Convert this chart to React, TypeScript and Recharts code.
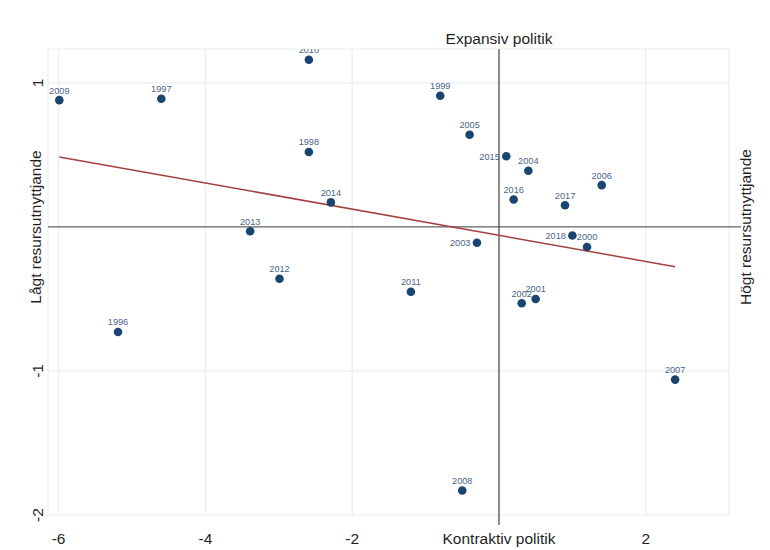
import {
    ScatterChart,
    Scatter,
    XAxis,
    YAxis,
    CartesianGrid,
    ReferenceLine,
    Customized,
} from "recharts";

// Finanspolitik (x) mot resursutnyttjande (y), ett år per punkt
const years = [
    "1996", "1997", "1998", "1999", "2000", "2001", "2002", "2003",
    "2004", "2005", "2006", "2007", "2008", "2009", "2010", "2011",
    "2012", "2013", "2014", "2015", "2016", "2017", "2018",
];
const policy = [
    -5.19, -4.6, -2.59, -0.8, 1.2, 0.5, 0.31, -0.3,
    0.4, -0.4, 1.4, 2.4, -0.5, -5.99, -2.59, -1.2,
    -2.99, -3.39, -2.29, 0.1, 0.2, 0.9, 1.0,
];
const resource = [
    -0.73, 0.89, 0.52, 0.91, -0.14, -0.5, -0.53, -0.11,
    0.39, 0.64, 0.29, -1.06, -1.83, 0.88, 1.16, -0.45,
    -0.36, -0.03, 0.17, 0.49, 0.19, 0.15, -0.06,
];
// år vars etikett står till vänster om punkten
const leftLabelYears = ["2003", "2015", "2018"];

const xTicks = [-6, -4, -2, 0, 2];
const yTicks = [-2, -1, 1];

const data = years.map((year, i) => ({ year, x: policy[i], y: resource[i] }));

// linjär anpassning (OLS) över punkterna
const n = data.length;
const meanX = policy.reduce((s, v) => s + v, 0) / n;
const meanY = resource.reduce((s, v) => s + v, 0) / n;
const sxy = data.reduce((s, d) => s + (d.x - meanX) * (d.y - meanY), 0);
const sxx = data.reduce((s, d) => s + (d.x - meanX) ** 2, 0);
const slope = sxy / sxx;
const intercept = meanY - slope * meanX;
const xMin = Math.min(...policy);
const xMax = Math.max(...policy);
const fitLine = [
    { x: xMin, y: intercept + slope * xMin },
    { x: xMax, y: intercept + slope * xMax },
];

const FONT = "'Liberation Sans', Arial, sans-serif";
const TEXT = "#1f1f1f";

const Point = (props: any) => {
    const { cx, cy, payload } = props;
    const left = leftLabelYears.includes(payload.year);
    return (
        <g>
            <circle cx={cx} cy={cy} r={4.3} fill="#1a4570" />
            <text
                x={left ? cx - 6.5 : cx}
                y={left ? cy + 3.3 : cy - 6.6}
                textAnchor={left ? "end" : "middle"}
                fontSize={9.2}
                fill="#4a6688"
                fontFamily={FONT}
            >
                {payload.year}
            </text>
        </g>
    );
};

const XTick = (props: any) => {
    const { x, payload } = props;
    const label = payload.value === 0 ? "Kontraktiv politik" : String(payload.value);
    return (
        <text x={x} y={544} textAnchor="middle" fontSize={15.5} fill={TEXT} fontFamily={FONT}>
            {label}
        </text>
    );
};

const YTick = (props: any) => {
    const { y, payload } = props;
    return (
        <text
            x={42.7}
            y={y}
            transform={`rotate(-90 42.7 ${y})`}
            textAnchor="middle"
            fontSize={15.5}
            fill={TEXT}
            fontFamily={FONT}
        >
            {payload.value}
        </text>
    );
};

const Titles = () => (
    <g fontFamily={FONT} fontSize={15.5} fill={TEXT}>
        <text x={499} y={44} textAnchor="middle">
            Expansiv politik
        </text>
        <text x={41} y={227} transform="rotate(-90 41 227)" textAnchor="middle">
            Lågt resursutnyttjande
        </text>
        <text x={751} y={227} transform="rotate(-90 751 227)" textAnchor="middle">
            Högt resursutnyttjande
        </text>
    </g>
);

const App = () => {
    return (
        <div style={{ position: "absolute", left: 0, top: 0, background: "#fff" }}>
            <ScatterChart
                width={770}
                height={550}
                margin={{ top: 49, right: 41, bottom: 0, left: 8 }}
            >
                <CartesianGrid stroke="#e7eff1" strokeWidth={1.2} />
                <XAxis
                    type="number"
                    dataKey="x"
                    domain={[-6.144, 3.134]}
                    ticks={xTicks}
                    tick={<XTick />}
                    axisLine={false}
                    tickLine={false}
                    height={35}
                    allowDataOverflow
                    interval={0}
                />
                <YAxis
                    type="number"
                    dataKey="y"
                    domain={[-2, 1.235]}
                    ticks={yTicks}
                    tick={<YTick />}
                    axisLine={false}
                    tickLine={false}
                    width={40}
                    allowDataOverflow
                    interval={0}
                />
                <ReferenceLine
                    segment={[{ x: 0, y: 1.235 }, { x: 0, y: -2.07 }]}
                    stroke="#8a8a8a"
                    strokeWidth={2}
                    ifOverflow="visible"
                />
                <ReferenceLine
                    segment={[{ x: -6.144, y: 0 }, { x: 3.3, y: 0 }]}
                    stroke="#3a3a3a"
                    strokeWidth={1}
                    ifOverflow="visible"
                />
                <ReferenceLine
                    segment={fitLine}
                    stroke="#a3403f"
                    strokeWidth={1.5}
                    ifOverflow="visible"
                />
                <Scatter data={data} shape={<Point />} isAnimationActive={false} />
                <Customized component={Titles} />
            </ScatterChart>
        </div>
    );
};

export default App;
